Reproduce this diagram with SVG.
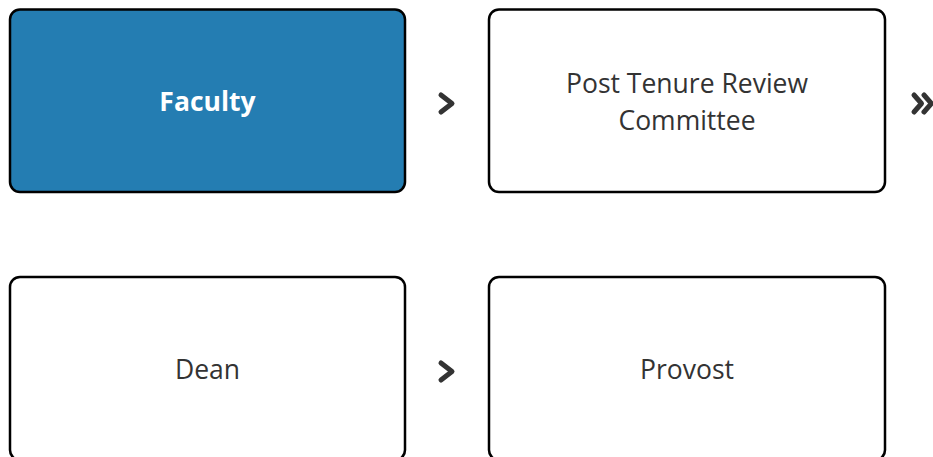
<svg xmlns="http://www.w3.org/2000/svg" width="933" height="457" viewBox="0 0 933 457">
<style>
.box{fill:#fff;stroke:#000;stroke-width:2.5}
.blue{fill:#247db2}
.t{font-family:"Open Sans","Noto Sans",sans-serif;font-size:26.5px;fill:#333;text-anchor:middle}
.w{fill:#fff;font-weight:bold}
.chev{fill:none;stroke:#333;stroke-width:5;stroke-linecap:round;stroke-linejoin:round}
</style>
<rect width="933" height="457" fill="#fff"/>
<g id="faculty">
<rect class="box blue" x="10" y="9.5" width="395" height="182.5" rx="10"/>
<text class="t w" x="207.5" y="111">Faculty</text>
</g>
<g id="committee">
<rect class="box" x="489" y="9.5" width="396" height="182.5" rx="10"/>
<text class="t" x="687" y="92.5">Post Tenure Review</text>
<text class="t" x="687" y="129.5">Committee</text>
</g>
<g id="dean">
<rect class="box" x="10" y="277" width="395" height="183" rx="10"/>
<text class="t" x="207.5" y="378.5">Dean</text>
</g>
<g id="provost">
<rect class="box" x="489" y="277" width="396" height="183" rx="10"/>
<text class="t" x="687" y="378.5">Provost</text>
</g>
<g id="connectors">
<polyline class="chev" points="441,95 452,103.5 441,112"/>
<polyline class="chev" points="441,363 452,371.5 441,380"/>
<polyline class="chev" points="914,95 921.5,103.5 914,112"/>
<polyline class="chev" points="924,95 931.5,103.5 924,112"/>
</g>
</svg>
